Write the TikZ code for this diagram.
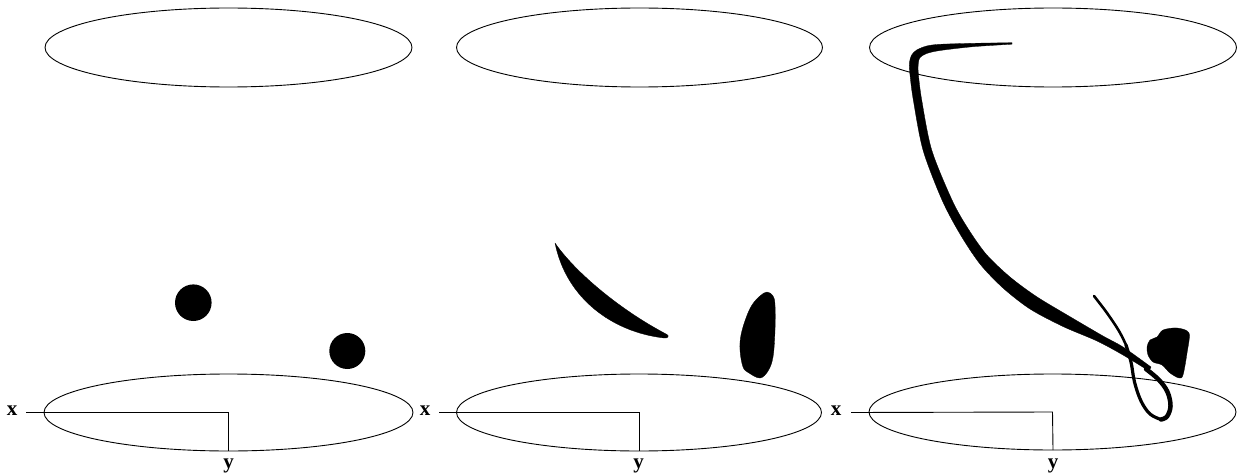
\documentclass[tikz,border=0pt]{standalone}
\usepackage{fontspec}
\setmainfont{Liberation Serif}
\begin{document}
\begin{tikzpicture}[x=1pt,y=-1pt,
  ell/.style={draw, line width=0.9pt},
  axis/.style={line width=0.9pt},
  lbl/.style={font=\fontsize{21}{21}\selectfont\bfseries, inner sep=0pt},
  ink/.style={fill=black, draw=black, line width=0.3pt, line join=round}]
\useasboundingbox (0,0) rectangle (1249,476);

% ---------- panel 1 ----------
\coordinate (tA) at (228.5,47.5);
\coordinate (bA) at (228.5,412.5);
\draw[ell] (tA) ellipse [x radius=183.5pt, y radius=39.5pt];
\draw[ell] (bA) ellipse [x radius=184.5pt, y radius=38.5pt];
\node[lbl] (xA) at (12,411) {x};
\node[lbl] (yA) at (228.5,466) {y};
\coordinate (xsA) at (26,412.5);
\coordinate (ybA) at (228.5,451);
\draw[axis] (xsA) -- (bA) -- (ybA);
\fill (193.3,302.7) circle [radius=18.3pt];
\fill (347.3,351) circle [radius=18pt];

% ---------- panel 2 ----------
\coordinate (tB) at (639.5,47.5);
\coordinate (bB) at (639,412.5);
\draw[ell] (tB) ellipse [x radius=183pt, y radius=39.5pt];
\draw[ell] (bB) ellipse [x radius=182.5pt, y radius=38.5pt];
\node[lbl] (xB) at (425,411) {x};
\node[lbl] (yB) at (638.5,466) {y};
\coordinate (xsB) at (439,412.5);
\coordinate (ybB) at (639,451);
\draw[axis] (xsB) -- (bB) -- (ybB);
% crescent
\fill[ink] (555,243) .. controls (575,272) and (620,310) .. (667,334.5)
  .. controls (669.5,336) and (668,338.5) .. (664,338)
  .. controls (612,332) and (566,298) .. (555,243) -- cycle;
% blob
\fill[ink] plot[smooth cycle, tension=0.6] coordinates {(767,292) (773,296) (775,305) (775,330) (773,357) (768,371) (760,378) (749,373) (743,367) (740,350) (741,335) (746,318) (752,305) (760,296)};

% ---------- panel 3 ----------
\coordinate (tC) at (1053,47.5);
\coordinate (bC) at (1052.5,412);
\draw[ell] (tC) ellipse [x radius=183.5pt, y radius=39.5pt];
\draw[ell] (bC) ellipse [x radius=183.5pt, y radius=38pt];
\node[lbl] (xC) at (836,411) {x};
\node[lbl] (yC) at (1053,466) {y};
\coordinate (xsC) at (851,412.5);
\coordinate (ybC) at (1053,450);
\draw[axis] (xsC) -- (bC) -- (ybC);
% long ribbon
\fill[ink] plot[smooth, tension=0.5] coordinates {(1012,42.7) (973,43.3) (940,44.3) (926.7,46) (916.7,50) (911.7,55) (909.3,63.3) (910,75) (913.3,100) (923,150) (942,200) (960,234) (980,264) (1003,288) (1030,309) (1063,326.5) (1097,341) (1123,355) (1149,371)}
  -- plot[smooth, tension=0.5] coordinates {(1151,367) (1123,347) (1103,336) (1070,316.7) (1036.7,296.7) (1010,277) (986,254) (967,227) (952,200) (931.7,150) (921.7,100) (918.3,73.3) (918.3,63.3) (920,57.5) (926.7,53.5) (940,50.5) (973,46.7) (1012,44.2)} -- cycle;
% loop
\draw[line width=4.5pt, line cap=round, line join=round] plot[smooth, tension=0.6] coordinates {(1146,369) (1159,380) (1167.5,392) (1170.5,406) (1167,416.5) (1161,419.5)};
\draw[line width=3.2pt, line cap=round, line join=round] plot[smooth, tension=0.6] coordinates {(1161,419.5) (1150,414) (1141,401) (1134.5,382) (1131,362) (1126,345)};
\draw[line width=2.6pt, line cap=round, line join=round] plot[smooth, tension=0.6] coordinates {(1126,345) (1119,331) (1107,313) (1094,296)};
% blob
\fill[ink] plot[smooth cycle, tension=0.5] coordinates {(1163,330) (1177,328) (1189,333) (1187,353) (1183,375) (1179,378) (1170,373) (1162,365) (1153,362) (1148,355) (1147,347) (1150,340) (1157,337)};
\end{tikzpicture}
\end{document}
